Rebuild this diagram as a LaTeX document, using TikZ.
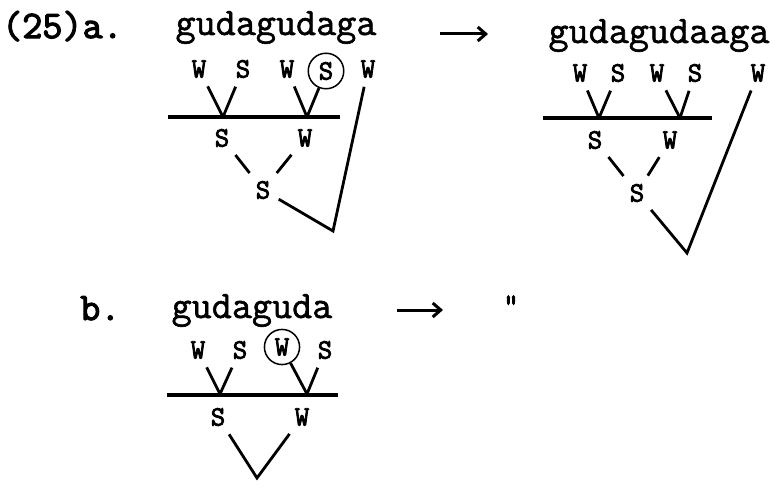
\documentclass[tikz,border=0pt]{standalone}
\usepackage{fontspec}
\newfontfamily\typew{Latin Modern Mono}[FakeBold=1.5]
\newfontfamily\typeb{Latin Modern Mono}[FakeBold=3]
\usetikzlibrary{arrows.meta}

\begin{document}
\begin{tikzpicture}[x=1pt,y=-1pt,
word/.style={font=\fontsize{39}{40}\selectfont\typew,inner sep=0pt,anchor=base},
num/.style={word,font=\fontsize{39}{40}\selectfont\typeb,anchor=base west},
lbl/.style={font=\fontsize{28}{30}\selectfont\typeb,inner sep=4pt},
circ/.style={lbl,draw,circle,line width=1.5pt,inner sep=4.5pt},
ln/.style={line width=2.8pt},
gap/.style={ln,shorten <=5pt,shorten >=5pt},
bar/.style={line width=4pt},
arr/.style={-{Straight Barb[length=8pt,width=14pt,line width=3pt]},line width=3pt}]
\useasboundingbox (0,0) rectangle (784,487);
% (25) a.
\node[num] (na) at (2,38) {(25)a.};
\node[word] (wa) at (276,35) {gudagudaga};
\node[word] (wa2) at (659,43) {gudagudaaga};
\coordinate (aa1) at (440,34); \coordinate (aa2) at (488,34);
\draw[arr] (aa1) -- (aa2);
\node[lbl] (a1) at (199,69) {W};
\node[lbl] (a2) at (243,69) {S};
\node[lbl] (a3) at (287,69) {W};
\node[circ] (a4) at (326,71) {S};
\node[lbl] (a5) at (368,69) {W};
\coordinate (ab1) at (168,117); \coordinate (ab2) at (340,117);
\coordinate (av1) at (223,117); \coordinate (av2) at (307,117);
\draw[bar] (ab1) -- (ab2);
\draw[ln,shorten <=5pt] (a1) -- (av1); \draw[ln,shorten <=5pt] (a2) -- (av1);
\draw[ln,shorten <=5pt] (a3) -- (av2); \draw[ln] (a4) -- (av2);
\node[lbl] (as) at (222,138) {S};
\node[lbl] (aw) at (305,138) {W};
\node[lbl] (ar) at (263,190) {S};
\coordinate (ac) at (333,231);
\draw[gap] (as) -- (ar); \draw[gap] (aw) -- (ar);
\draw[gap] (ar) -- (ac) -- (a5);
% right tree
\node[lbl] (c1) at (580,73) {W};
\node[lbl] (c2) at (618,73) {S};
\node[lbl] (c3) at (657,73) {W};
\node[lbl] (c4) at (695,73) {S};
\node[lbl] (c5) at (758,73) {W};
\coordinate (cb1) at (543,118); \coordinate (cb2) at (712,118);
\coordinate (cv1) at (599,118); \coordinate (cv2) at (680,118);
\draw[bar] (cb1) -- (cb2);
\draw[ln,shorten <=5pt] (c1) -- (cv1); \draw[ln,shorten <=5pt] (c2) -- (cv1);
\draw[ln,shorten <=5pt] (c3) -- (cv2); \draw[ln,shorten <=5pt] (c4) -- (cv2);
\node[lbl] (cs) at (595,140) {S};
\node[lbl] (cw) at (670,140) {W};
\node[lbl] (cr) at (637,193) {S};
\coordinate (cc) at (687,253);
\draw[gap] (cs) -- (cr); \draw[gap] (cw) -- (cr);
\draw[gap] (cr) -- (cc) -- (c5);
% b.
\node[num] (nb) at (80,320) {b.};
\node[word] (wb) at (252,318) {gudaguda};
\coordinate (ba1) at (397,310); \coordinate (ba2) at (443,310);
\draw[arr] (ba1) -- (ba2);
\node[word,anchor=center,font=\fontsize{30}{30}\selectfont\typeb] (dit) at (511,305) {"};
\node[lbl] (b1) at (198,350) {W};
\node[lbl] (b2) at (240,350) {S};
\node[circ] (b3) at (282,347) {W};
\node[lbl] (b4) at (325,350) {S};
\coordinate (bb1) at (167,395); \coordinate (bb2) at (338,395);
\coordinate (bv1) at (220,394); \coordinate (bv2) at (307,394);
\draw[bar] (bb1) -- (bb2);
\draw[ln,shorten <=5pt] (b1) -- (bv1); \draw[ln,shorten <=5pt] (b2) -- (bv1);
\draw[ln] (b3) -- (bv2); \draw[ln,shorten <=5pt] (b4) -- (bv2);
\node[lbl] (bs) at (218,417) {S};
\node[lbl] (bw) at (302,417) {W};
\coordinate (bc) at (257,478);
\draw[gap] (bs) -- (bc) -- (bw);
\end{tikzpicture}
\end{document}
